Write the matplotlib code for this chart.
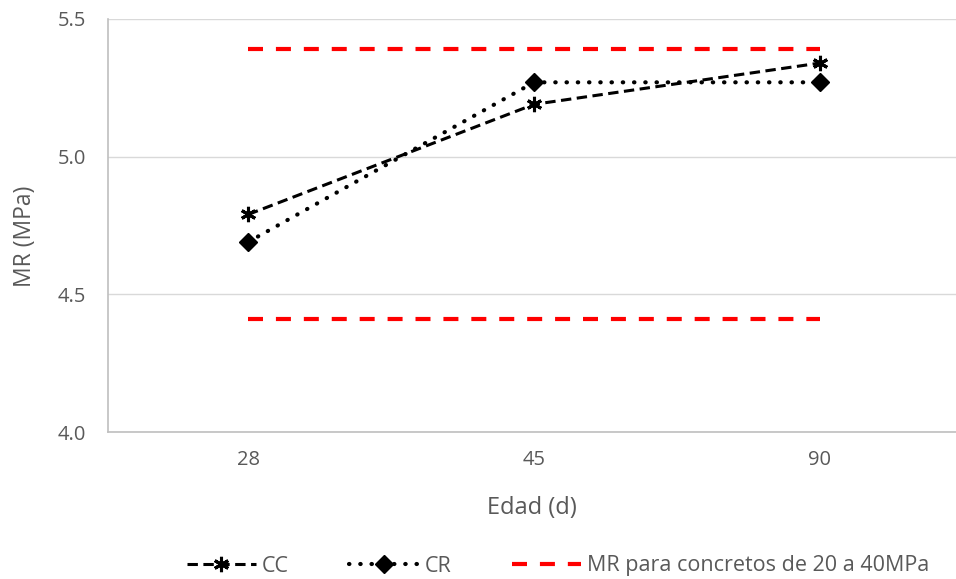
import matplotlib
matplotlib.use("Agg")
import matplotlib.pyplot as plt

# Data
edad = ["28", "45", "90"]
cc = [4.79, 5.19, 5.34]
cr = [4.69, 5.27, 5.27]
mr_sup = [5.39, 5.39, 5.39]
mr_inf = [4.41, 4.41, 4.41]
y_ticks = [4.0, 4.5, 5.0, 5.5]

plt.rcParams["font.family"] = ["Open Sans", "DejaVu Sans"]
text_color = "#595959"

fig = plt.figure(figsize=(9.56, 5.79), dpi=100)
ax = fig.add_axes([108 / 956, 1 - 432 / 579, 1 - 108 / 956, (432 - 19) / 579])

x = list(range(len(edad)))

# Reference limits for concrete of 20 to 40 MPa
ax.plot(x, mr_sup, color="#ff0000", lw=3, dashes=(3.6, 3.1), dash_capstyle="butt",
        label="MR para concretos de 20 a 40MPa", zorder=2)
ax.plot(x, mr_inf, color="#ff0000", lw=3, dashes=(3.6, 3.1), dash_capstyle="butt", zorder=2)

ax.plot(x, cc, color="black", lw=2.2, dashes=(3.4, 1.8), marker=(6, 2, 0),
        markersize=11, markeredgewidth=2.2, label="CC", zorder=3)
ax.plot(x, cr, color="black", lw=3, linestyle=(0, (0.1, 2.6)), dash_capstyle="round",
        marker="D", markersize=9, label="CR", zorder=3)

ax.set_ylim(4.0, 5.5)
ax.set_yticks(y_ticks)
ax.set_yticklabels([f"{v:.1f}" for v in y_ticks])
ax.set_xlim(-0.49, 2.476)
ax.set_xticks(x)
ax.set_xticklabels(edad)

ax.grid(axis="y", color="#d9d9d9", lw=1)
ax.set_axisbelow(True)
for s in ["top", "right"]:
    ax.spines[s].set_visible(False)
for s in ["left", "bottom"]:
    ax.spines[s].set_color("#bfbfbf")
    ax.spines[s].set_linewidth(1.2)

ax.tick_params(axis="both", length=0, labelsize=14.5, colors=text_color)
ax.tick_params(axis="x", pad=13)
ax.tick_params(axis="y", pad=16)

ax.set_xlabel("Edad (d)", fontsize=17, color=text_color, labelpad=19)
ax.set_ylabel("MR (MPa)", fontsize=16.5, color=text_color, labelpad=15)
ax.yaxis.label.set_y(0.475)

handles, labels = ax.get_legend_handles_labels()
order = [1, 2, 0]
leg = fig.legend([handles[i] for i in order], [labels[i] for i in order],
                 loc="center", bbox_to_anchor=(558 / 956, 1 - 566 / 579),
                 ncol=3, frameon=False, fontsize=15.5, handlelength=3.2,
                 handletextpad=0.3, columnspacing=2.8, labelcolor=text_color)

fig.savefig("out.png", dpi=100)
